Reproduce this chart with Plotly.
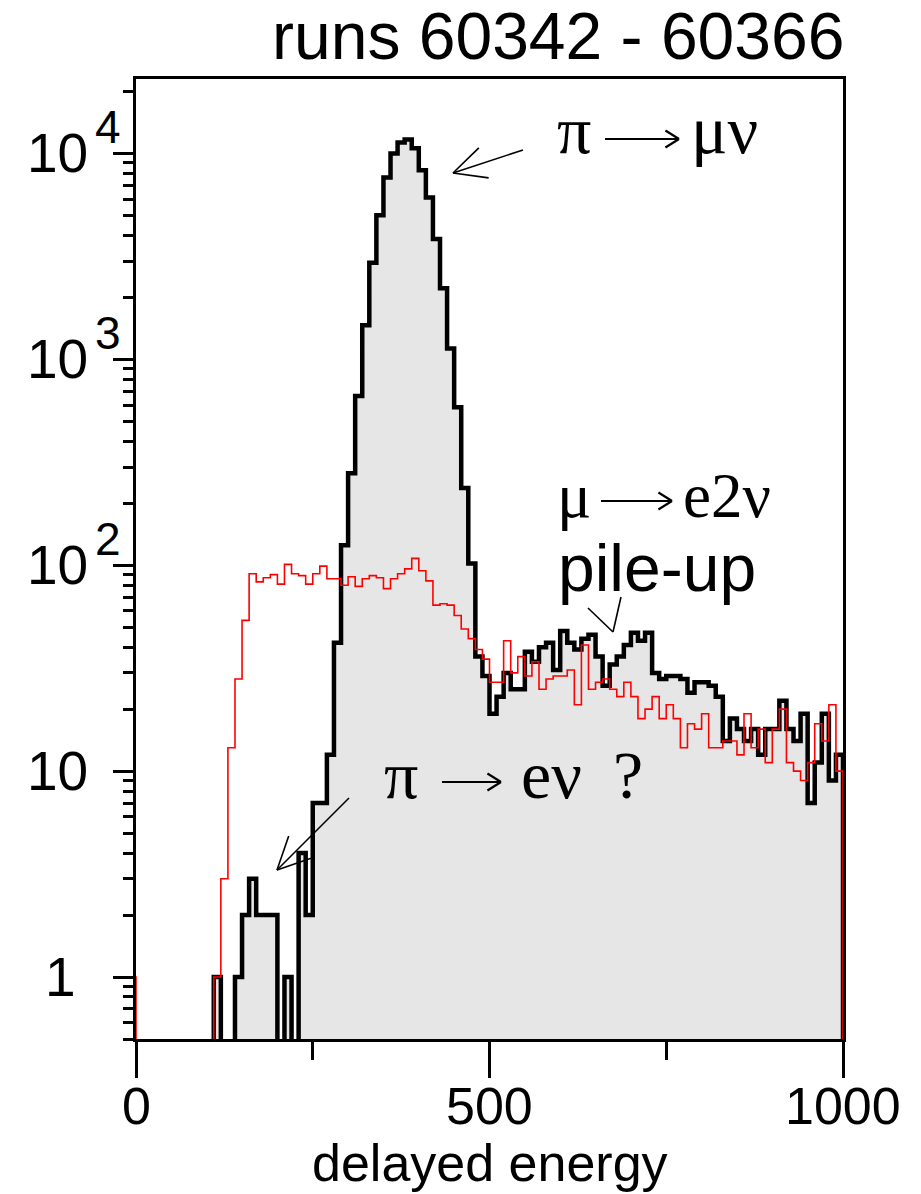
import math
import plotly.graph_objects as go

# Histogram binning: 100 bins of width 10 over 0..1000
bin_edges = list(range(0, 1001, 10))
# the red spectrum also carries one underflow bin just below 0
red_edges = [-10] + bin_edges

# Counts per bin (thick black, filled)
black_counts = [
    0, 0, 0, 0, 0, 0, 0, 0, 0, 0,
    0, 1, 0, 0, 1, 2, 3, 2, 2, 2,
    0, 1, 0, 4, 2, 7, 7, 12, 42, 125,
    280, 664, 1466, 2943, 5016, 7640, 10000, 11300, 11700, 10600,
    8300, 6110, 3840, 2213, 1130, 585, 237, 102, 36, 29,
    19, 23, 30, 25, 25, 38, 34, 40, 42, 31,
    48, 42, 39, 44, 46, 36, 26, 33, 36, 41,
    47, 43, 47, 30, 28, 29, 29, 28, 24, 27,
    27, 26, 23, 14, 18, 16, 14, 16, 12, 16,
    16, 22, 16, 14, 19, 7, 11, 19, 9, 12,
]

# Counts per bin (thin red), first entry is the underflow bin
red_counts = [
    1,
    0, 0, 0, 0, 0, 0, 0, 0, 0, 0,
    0, 1, 3, 13, 28, 54, 91, 83, 87, 90,
    81, 101, 91, 89, 81, 91, 99, 86, 86, 80,
    88, 79, 86, 89, 87, 77, 86, 91, 96, 108,
    94, 84, 64, 65, 64, 57, 49, 44, 39, 35,
    27, 27, 43, 30, 36, 29, 34, 25, 28, 29,
    29, 31, 21, 41, 25, 27, 28, 25, 23, 27,
    23, 18, 20, 23, 18, 21, 18, 13, 17, 16,
    19, 13, 13, 14, 14, 12, 19, 13, 16, 11,
    16, 20, 11, 10, 9, 11, 17, 14, 21, 10,
]

y_ticks = [1, 10, 100, 1000, 10000]
y_tick_base = ["1", "10", "10", "10", "10"]
y_tick_exp = ["", "", "2", "3", "4"]
x_ticks = [0, 500, 1000]
x_tick_text = ["0", "500", "1000"]
x_minor = [250, 750]

Y_MIN, Y_MAX = 0.5, 23000
FLOOR = 0.05  # empty bins drop below the visible range of the log axis

W, H = 921, 1194
ML, MR, MT, MB = 136, 78, 79, 155
PW, PH = W - ML - MR, H - MT - MB


def px(x):
    return (x - ML) / PW


def py(y):
    return (H - MB - y) / PH


def step_xy(edges, counts):
    xs = [edges[0]] + edges + [edges[-1]]
    ys = [FLOOR] + [c if c > 0 else FLOOR for c in counts] + [counts[-1] if counts[-1] > 0 else FLOOR, FLOOR]
    return xs, ys


fig = go.Figure()

bx, by = step_xy(bin_edges, black_counts)
fig.add_trace(go.Scatter(
    x=bx, y=by, mode="lines", line=dict(shape="hv", color="black", width=4.5),
    fill="tozeroy", fillcolor="#e6e6e6", hoverinfo="skip",
))

rx, ry = step_xy(red_edges, red_counts)
fig.add_trace(go.Scatter(
    x=rx, y=ry, mode="lines", line=dict(shape="hv", color="#ff0000", width=1.6),
    hoverinfo="skip",
))

minor_y = [m * 10 ** e for e in range(-1, 5) for m in range(2, 10) if Y_MIN <= m * 10 ** e <= Y_MAX]

fig.update_xaxes(
    range=[0, 1000], tickvals=x_ticks, showticklabels=False,
    ticks="outside", ticklen=36, tickwidth=3, tickcolor="black",
    minor=dict(tickvals=x_minor, ticks="outside", ticklen=18, tickwidth=3, tickcolor="black", showgrid=False),
    showline=True, linewidth=3, linecolor="black", mirror=True,
    showgrid=False, zeroline=False,
)
fig.update_yaxes(
    type="log", range=[math.log10(Y_MIN), math.log10(Y_MAX)],
    tickvals=y_ticks, showticklabels=False,
    ticks="outside", ticklen=20, tickwidth=3, tickcolor="black",
    minor=dict(tickvals=minor_y, ticks="outside", ticklen=10, tickwidth=3, tickcolor="black", showgrid=False),
    showline=True, linewidth=3, linecolor="black", mirror=True,
    showgrid=False, zeroline=False,
)

SANS = "Liberation Sans, Arial, sans-serif"
SERIF = "Liberation Serif, Times New Roman, serif"

ann = []


def label(x, y, text, size, family=SANS, xanchor="left", xref="paper", yref="paper", yshift=0):
    ann.append(dict(x=x, xref=xref, xanchor=xanchor, y=y, yref=yref, yanchor="middle",
                    yshift=yshift, text=text, showarrow=False,
                    font=dict(family=family, size=size, color="black")))


# y tick labels with superscript powers
for v, base, ex in zip(y_ticks, y_tick_base, y_tick_exp):
    right = 78 if base == "1" else 90
    label(px(right), math.log10(v), base, 55, xanchor="right", yref="y")
    if ex:
        label(px(93), math.log10(v), ex, 46, yref="y", yshift=26)

# x tick labels
for v, t in zip(x_ticks, x_tick_text):
    label(v, py(1106), t, 52, xanchor="center", xref="x")

label(px(489.5), py(1163), "delayed energy", 52, xanchor="center")
label(px(846), py(36), "runs 60342 - 60366", 66, xanchor="right")

# reaction labels: symbols as text, the arrows between them drawn as strokes
label(px(555), py(130), "π", 68, SERIF)
label(px(689), py(130), "μν", 68, SERIF)
label(px(555), py(496), "μ", 64, SERIF)
label(px(681), py(496), "e2ν", 63, SERIF)
label(px(556), py(568), "pile-up", 66)
label(px(382), py(775), "π", 68, SERIF)
label(px(519), py(775), "eν", 68, SERIF)
label(px(611), py(775), "?", 68, SERIF)

shapes = []


def seg(x0, y0, x1, y1, w=1.6):
    shapes.append(dict(type="line", xref="paper", yref="paper",
                       x0=px(x0), y0=py(y0), x1=px(x1), y1=py(y1),
                       line=dict(color="black", width=w)))


def arrow(tail, tip, barb=36, spread=26, w=1.6):
    (x0, y0), (x1, y1) = tail, tip
    seg(x0, y0, x1, y1, w)
    ang = math.atan2(y0 - y1, x0 - x1)
    for s in (-1, 1):
        a = ang + s * math.radians(spread)
        seg(x1, y1, x1 + barb * math.cos(a), y1 + barb * math.sin(a), w)


# arrows inside the reaction labels
arrow((605, 139), (679, 139), barb=16, spread=32, w=2.2)
arrow((601, 501), (672, 501), barb=16, spread=32, w=2.2)
arrow((442, 782), (501, 782), barb=16, spread=32, w=2.2)

# pointers to the features
arrow((523, 150), (453, 173))
arrow((349, 798), (277, 870))
seg(588, 608, 613, 632)
seg(621, 597, 613, 632)

fig.update_layout(
    width=W, height=H, margin=dict(l=ML, r=MR, t=MT, b=MB),
    paper_bgcolor="white", plot_bgcolor="white", showlegend=False,
    annotations=ann, shapes=shapes,
)

fig.write_html("out.html")
